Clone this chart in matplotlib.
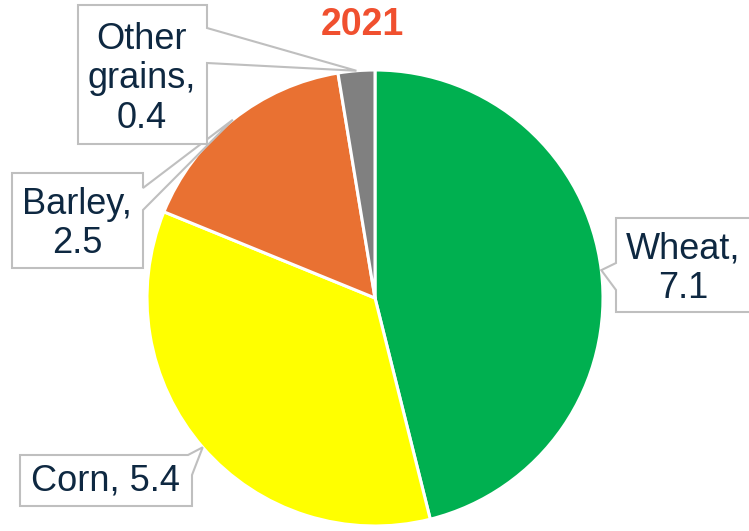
import numpy as np
import matplotlib.pyplot as plt
from matplotlib.patches import Polygon

plt.rcParams['font.family'] = ['Liberation Sans', 'DejaVu Sans']

title = '2021'
grains = ['Wheat', 'Corn', 'Barley', 'Other grains']
values = [7.1, 5.4, 2.5, 0.4]
colors = ['#00b050', '#ffff00', '#e97132', '#808080']
label_text = ['Wheat,\n7.1', 'Corn, 5.4', 'Barley,\n2.5', 'Other\ngrains,\n0.4']

# callout layout in pixels from the top-left: text centre, box (l, t, r, b),
# and the two points where the pointer leaves the box
text_pos = [(683, 269), (105, 481), (77, 224), (142, 79)]
boxes = [(616, 218, 770, 312), (20, 455, 192, 506), (12, 173, 143, 268), (78, 5, 207, 144)]
pointer_base = [((616, 290), (616, 263)), ((192, 475), (188, 455)),
                ((143, 188), (143, 210)), ((207, 28), (207, 63))]

W, H = 749, 531
fig = plt.figure(figsize=(W / 100, H / 100), dpi=100)
cx, cy, r = 375, 298, 228
ax = fig.add_axes([(cx - r) / W, (H - cy - r) / H, 2 * r / W, 2 * r / H])

wedges, _ = ax.pie(values, colors=colors, startangle=90, counterclock=False,
                   wedgeprops=dict(edgecolor='white', linewidth=2.2))
ax.set_xlim(-1, 1)
ax.set_ylim(-1, 1)
ax.set_aspect('equal')
ax.axis('off')


def px(p):
    return (p[0] / W, 1 - p[1] / H)


def callout(box, base, tip):
    l, t, rr, b = box
    corners = [(l, t), (rr, t), (rr, b), (l, b)]
    # walk the rectangle clockwise (in screen terms) and splice in the pointer
    pts = []
    edges = [((l, t), (rr, t)), ((rr, t), (rr, b)), ((rr, b), (l, b)), ((l, b), (l, t))]

    def edge_of(p):
        x, y = p
        if y == t:
            return 0
        if x == rr:
            return 1
        if y == b:
            return 2
        return 3

    e0, e1 = edge_of(base[0]), edge_of(base[1])

    def along(e, p):
        a, _ = edges[e]
        return abs(p[0] - a[0]) + abs(p[1] - a[1])

    # order base points so that the first comes first going clockwise
    b0, b1 = base
    if (e0, along(e0, b0)) > (e1, along(e1, b1)):
        b0, b1 = b1, b0
        e0, e1 = e1, e0
    for e in range(4):
        pts.append(corners[e])
        if e == e0:
            pts.append(b0)
            pts.append(tip)
            if e1 == e0:
                pts.append(b1)
        if e == e1 and e1 != e0:
            pts.append(b1)
    if e1 != e0:
        # drop the corner between the two base points
        c = corners[e1]
        pts.remove(c)
    return Polygon([px(p) for p in pts], closed=True, transform=fig.transFigure,
                   fc='white', ec='#bfbfbf', lw=1.5, zorder=3)


for w, txt, tp, box, base in zip(wedges, label_text, text_pos, boxes, pointer_base):
    mid = np.deg2rad((w.theta1 + w.theta2) / 2)
    dx, dy = ax.transData.transform((np.cos(mid), np.sin(mid)))
    tip = (dx, H - dy)
    fig.add_artist(callout(box, base, tip))
    fig.text(*px(tp), txt, ha='center', va='center', fontsize=26, color='#0e2841',
             linespacing=1.17, zorder=4)

fig.text(362 / W, 1 - 25 / H, title, ha='center', va='center', fontsize=27,
         fontweight='bold', color='#f0502f')

fig.savefig('out.png', dpi=100)
